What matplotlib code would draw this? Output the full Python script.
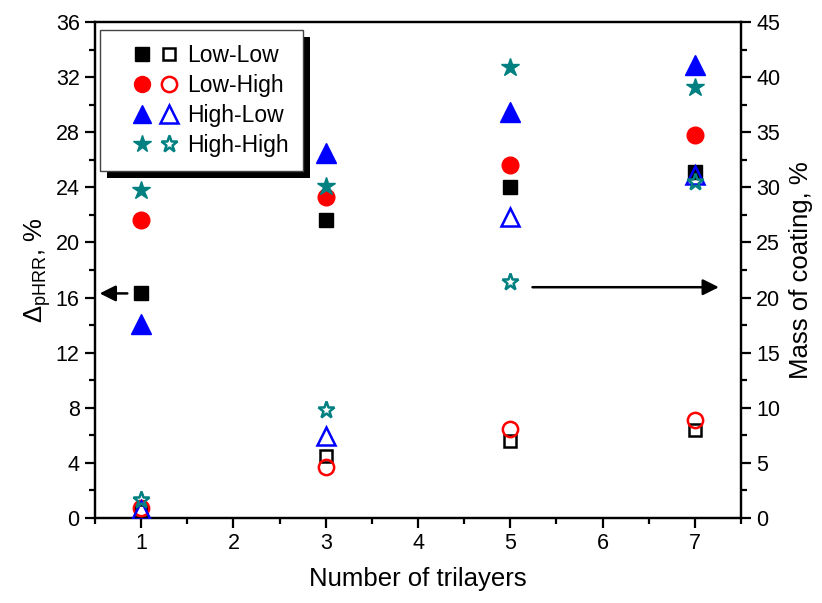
import matplotlib
matplotlib.use("Agg")
import matplotlib.pyplot as plt
from matplotlib.legend_handler import HandlerBase
from matplotlib.lines import Line2D
from matplotlib.patches import Rectangle

plt.rcParams['font.family'] = ['Liberation Sans', 'DejaVu Sans']
plt.rcParams['mathtext.fontset'] = 'custom'
plt.rcParams['mathtext.rm'] = 'Liberation Sans'
plt.rcParams['mathtext.it'] = 'Liberation Sans:italic'

trilayers = [1, 3, 5, 7]
names = ["Low-Low", "Low-High", "High-Low", "High-High"]

# delta pHRR, % (left axis, filled markers)
dphrr_ll = [16.3, 21.6, 24.0, 25.1]
dphrr_lh = [21.6, 23.3, 25.6, 27.8]
dphrr_hl = [14.1, 26.5, 29.5, 32.9]
dphrr_hh = [23.8, 24.1, 32.7, 31.3]

# mass of coating, % (right axis, open markers)
mass_ll = [0.6, 5.6, 7.0, 8.0]
mass_lh = [0.9, 4.6, 8.1, 8.9]
mass_hl = [0.7, 7.4, 27.3, 31.1]
mass_hh = [1.6, 9.8, 21.4, 30.5]

colors = ["black", "red", "blue", "teal"]
markers = ["s", "o", "^", "*"]
msizes = [10, 12, 14, 13.5]


class PairHandler(HandlerBase):
    # filled + open marker side by side
    def create_artists(self, legend, orig_handle, xdescent, ydescent,
                       width, height, fontsize, trans):
        out = []
        y = height / 2 - ydescent
        for frac, h in zip((0.44, 0.86), orig_handle):
            ln = Line2D([width * frac - xdescent], [y])
            ln.update_from(h)
            ln.set_transform(trans)
            out.append(ln)
        return out


fig = plt.figure(figsize=(8.22, 6.03), dpi=100)
ax = fig.add_axes([0.1156, 0.141, 0.7859, 0.8225])
ax2 = ax.twinx()

left_data = [dphrr_ll, dphrr_lh, dphrr_hl, dphrr_hh]
right_data = [mass_ll, mass_lh, mass_hl, mass_hh]

handles = []
for i in range(4):
    ax.plot(trilayers, left_data[i], ls="none", marker=markers[i], ms=msizes[i],
            color=colors[i], mec=colors[i], zorder=3)
    ax2.plot(trilayers, right_data[i], ls="none", marker=markers[i], ms=msizes[i] - 1,
             mfc="none", mec=colors[i], mew=1.8, zorder=3)
    f = Line2D([], [], ls="none", marker=markers[i], ms=msizes[i] - 0.5, color=colors[i])
    o = Line2D([], [], ls="none", marker=markers[i], ms=msizes[i] - 1, mfc="none",
               mec=colors[i], mew=1.8)
    handles.append((f, o))

ax.set_xlim(0.5, 7.5)
ax.set_ylim(0, 36)
ax2.set_ylim(0, 45)
ax.set_xticks([1, 2, 3, 4, 5, 6, 7])
ax.set_xticks([0.5, 1.5, 2.5, 3.5, 4.5, 5.5, 6.5, 7.5], minor=True)
ax.set_yticks(range(0, 37, 4))
ax.set_yticks(range(2, 36, 4), minor=True)
ax2.set_yticks(range(0, 46, 5))
ax2.set_yticks([2.5 + 5 * k for k in range(9)], minor=True)

for a in (ax, ax2):
    for s in a.spines.values():
        s.set_linewidth(1.6)
    a.tick_params(which="major", length=7, width=1.6, labelsize=15.5, direction="out", pad=4)
    a.tick_params(which="minor", length=4, width=1.6, direction="out")

ax.set_xlabel("Number of trilayers", fontsize=18.5, labelpad=9)
ax.set_ylabel(r"$\Delta_{\mathrm{pHRR}}$, %", fontsize=18.5, labelpad=2)
ax2.set_ylabel("Mass of coating, %", fontsize=18.5, labelpad=6)

ax.annotate("", xy=(0.52, 16.3), xytext=(0.88, 16.3),
            arrowprops=dict(arrowstyle="-|>", color="black", lw=1.8, mutation_scale=24))
ax.annotate("", xy=(7.29, 16.75), xytext=(5.21, 16.75),
            arrowprops=dict(arrowstyle="-|>", color="black", lw=1.8, mutation_scale=24))

leg = ax2.legend(handles, names, handler_map={tuple: PairHandler()},
                 loc="upper left", bbox_to_anchor=(0.008, 0.984), fontsize=16.5,
                 frameon=True, fancybox=False, edgecolor="#444444", framealpha=1,
                 handlelength=2.8, handletextpad=0.4, labelspacing=0.31,
                 borderpad=0.6, borderaxespad=0)
leg.get_frame().set_linewidth(1.0)
leg.set_zorder(10)

fig.canvas.draw()
bb = leg.get_window_extent()
shadow = Rectangle((bb.x0 + 7, bb.y0 - 7), bb.width, bb.height, transform=None,
                   facecolor="black", edgecolor="none", zorder=9)
ax2.add_artist(shadow)

fig.savefig("out.png", dpi=100)
